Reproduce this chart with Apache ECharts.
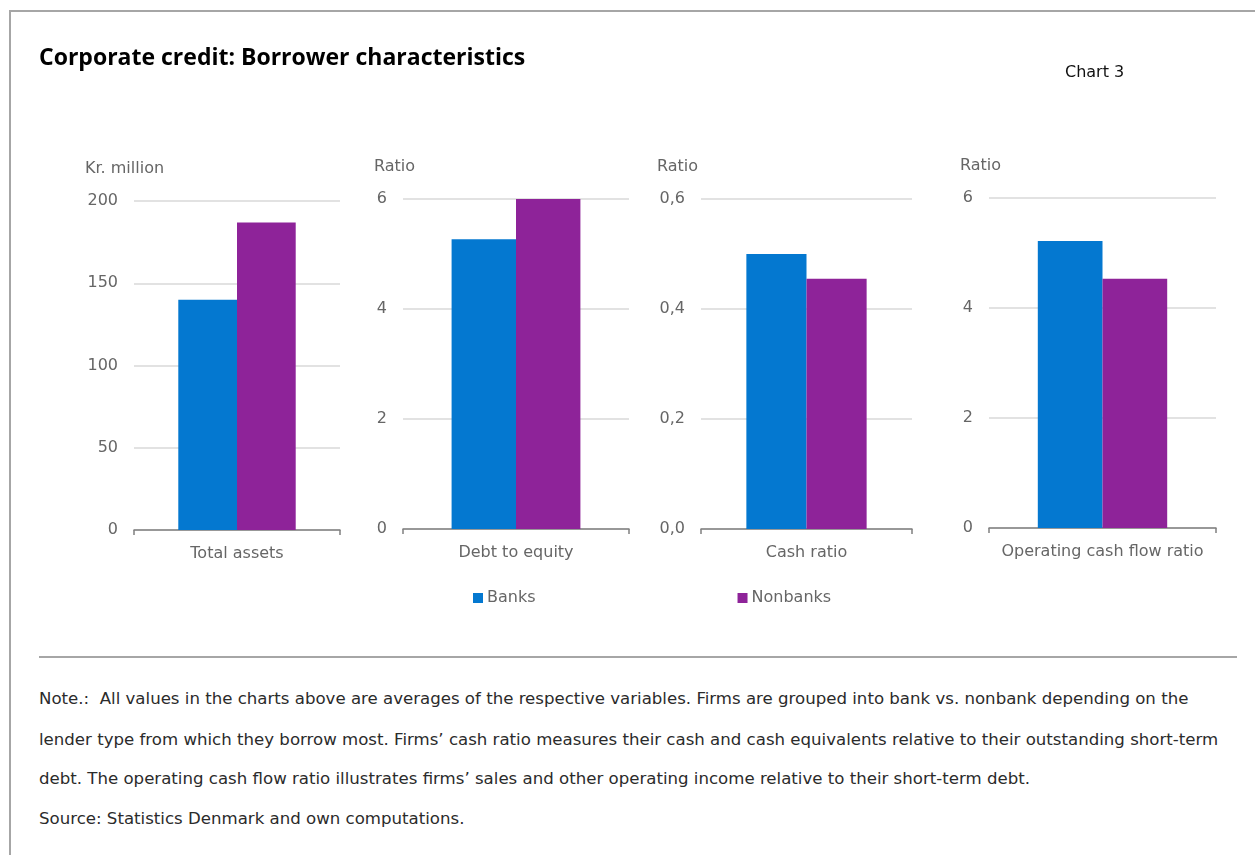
<!DOCTYPE html>
<html>
<head>
<meta charset="utf-8">
<script src="https://cdn.jsdelivr.net/npm/echarts@6/dist/echarts.min.js"></script>
<style>
  html, body { margin: 0; padding: 0; background: #fff; }
  .page { position: relative; width: 1255px; height: 855px; overflow: hidden; }
  .frame-top { position: absolute; left: 10px; top: 10px; right: 0; height: 2px; background: #a6a6a6; }
  .frame-left { position: absolute; left: 9px; top: 10px; bottom: 0; width: 2px; background: #a6a6a6; }
  .sep { position: absolute; left: 39px; top: 656px; width: 1198px; height: 2px; background: #a6a6a6; }
  #chart { position: absolute; left: 0; top: 0; width: 1255px; height: 650px; }
  .note { position: absolute; left: 39px; font-family: "DejaVu Sans", sans-serif; font-size: 16.6px; color: #2b2b2b; white-space: nowrap; }
</style>
</head>
<body>
<div class="page">
  <div class="frame-top"></div>
  <div class="frame-left"></div>
  <div id="chart"></div>
  <div class="sep"></div>
  <div class="note" style="top:689px">Note.:&nbsp; All values in the charts above are averages of the respective variables. Firms are grouped into bank vs. nonbank depending on the</div>
  <div class="note" style="top:730px">lender type from which they borrow most. Firms’ cash ratio measures their cash and cash equivalents relative to their outstanding short-term</div>
  <div class="note" style="top:769px">debt. The operating cash flow ratio illustrates firms’ sales and other operating income relative to their short-term debt.</div>
  <div class="note" style="top:809px">Source: Statistics Denmark and own computations.</div>
</div>
<script>
const panels = ['Total assets', 'Debt to equity', 'Cash ratio', 'Operating cash flow ratio']
const units = ['Kr. million', 'Ratio', 'Ratio', 'Ratio']
const banks = [140, 5.27, 0.50, 5.22]
const nonbanks = [187, 6.0, 0.455, 4.53]
const yMax = [200, 6, 0.6, 6]
const yStep = [50, 2, 0.2, 2]

const grids = [
  { left: 134, top: 201, width: 206, height: 329 },
  { left: 403, top: 199, width: 226, height: 330 },
  { left: 701, top: 199, width: 211, height: 330 },
  { left: 989, top: 198, width: 227, height: 330 }
]
const unitPos = [[85, 167], [374, 165], [657, 165], [960, 164]]

const textColor = '#666'
const font = '"DejaVu Sans", sans-serif'
const titleFont = '"Open Sans", "Noto Sans", sans-serif'

const chart = echarts.init(document.getElementById('chart'))

const xAxis = panels.map((p, i) => ({
  type: 'category',
  gridIndex: i,
  data: [p],
  axisLine: { lineStyle: { color: '#808080', width: 1.5 } },
  axisTick: { show: true, length: 5, lineStyle: { color: '#808080', width: 1.5 } },
  axisLabel: { color: textColor, fontSize: 16, fontFamily: font, margin: 16 }
}))

const yAxis = panels.map((p, i) => ({
  type: 'value',
  gridIndex: i,
  min: 0,
  max: yMax[i],
  interval: yStep[i],
  axisLine: { show: false },
  axisTick: { show: false },
  splitLine: { lineStyle: { color: '#d9d9d9', width: 1.5 } },
  axisLabel: {
    color: textColor,
    fontSize: 16,
    fontFamily: font,
    margin: 16,
    formatter: v => i === 2 ? v.toFixed(1).replace('.', ',') : String(v)
  }
}))

const series = []
panels.forEach((p, i) => {
  series.push({
    name: 'Banks', type: 'bar', xAxisIndex: i, yAxisIndex: i,
    data: [banks[i]], barGap: 0, barCategoryGap: '43%',
    itemStyle: { color: '#0478d0' }
  })
  series.push({
    name: 'Nonbanks', type: 'bar', xAxisIndex: i, yAxisIndex: i,
    data: [nonbanks[i]], barGap: 0, barCategoryGap: '43%',
    itemStyle: { color: '#8e2399' }
  })
})

chart.setOption({
  animation: false,
  title: [
    {
      text: 'Corporate credit: Borrower characteristics',
      left: 39, top: 47, padding: 0,
      textStyle: { fontSize: 23, fontWeight: 'bold', color: '#000', fontFamily: titleFont }
    },
    {
      text: 'Chart 3',
      left: 1065, top: 65, padding: 0,
      textStyle: { fontSize: 16, fontWeight: 'normal', color: '#111', fontFamily: font }
    }
  ],
  graphic: units.map((u, i) => ({
    type: 'text',
    left: unitPos[i][0],
    top: unitPos[i][1] - 6,
    style: { text: u, fill: textColor, font: '16px ' + font }
  })),
  legend: {
    left: 473, top: 590, padding: 0,
    icon: 'rect', itemWidth: 10, itemHeight: 10, itemGap: 202,
    textStyle: { color: textColor, fontSize: 16, fontFamily: font, padding: [0, 0, 0, -1] },
    data: ['Banks', 'Nonbanks']
  },
  grid: grids,
  xAxis: xAxis,
  yAxis: yAxis,
  series: series
})
</script>
</body>
</html>
